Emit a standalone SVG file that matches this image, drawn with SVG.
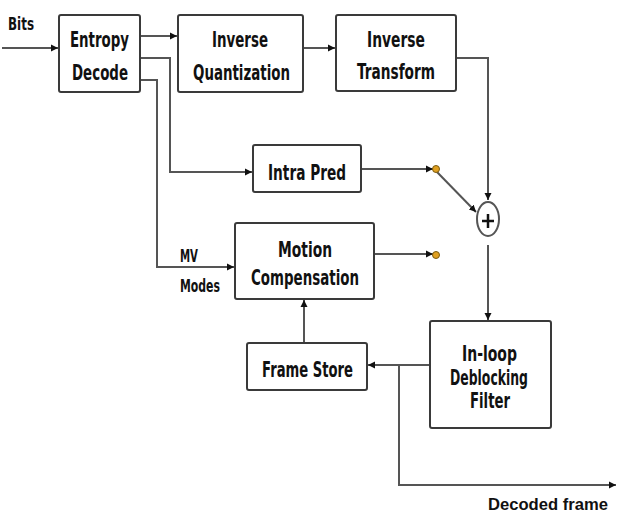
<svg xmlns="http://www.w3.org/2000/svg" width="617" height="517" viewBox="0 0 617 517">
<style>
.box{fill:#fff;stroke:#3a3a3a;stroke-width:2}
.t{font-family:"DejaVu Sans",Verdana,sans-serif;font-weight:bold;font-size:21px;fill:#111}
.s{font-family:"DejaVu Sans",Verdana,sans-serif;font-weight:bold;font-size:17px;fill:#111}
.n{font-family:"Liberation Sans",Arial,sans-serif;font-weight:bold;font-size:17px;fill:#111}
.c{fill:none;stroke:#555;stroke-width:2}
</style>
<defs>
<marker id="ah" markerWidth="8" markerHeight="8" refX="7" refY="4" orient="auto" markerUnits="userSpaceOnUse">
<path d="M0,0.5 L7,4 L0,7.5 Z" fill="#111"/>
</marker>
</defs>
<rect width="617" height="517" fill="#fff"/>
<g id="connectors">
<path class="c" d="M2,48 H58" marker-end="url(#ah)"/>
<path class="c" d="M140,36 H177" marker-end="url(#ah)"/>
<path class="c" d="M303,48 H335" marker-end="url(#ah)"/>
<path class="c" d="M456,58 H488 V200" marker-end="url(#ah)"/>
<path class="c" d="M140,58 H170 V172 H252" marker-end="url(#ah)"/>
<path class="c" d="M140,80 H157 V267 H234" marker-end="url(#ah)"/>
<path class="c" d="M361,169 H433" marker-end="url(#ah)"/>
<path class="c" d="M437,172 L476,212" marker-end="url(#ah)"/>
<path class="c" d="M374,254 H433" marker-end="url(#ah)"/>
<path class="c" d="M488,245 V320" marker-end="url(#ah)"/>
<path class="c" d="M430,365 H368" marker-end="url(#ah)"/>
<path class="c" d="M399,365 V485 H616" marker-end="url(#ah)"/>
<path class="c" d="M304,343 V300" marker-end="url(#ah)"/>
<circle cx="436" cy="169" r="3.5" fill="#e0a020" stroke="#7a5a10" stroke-width="1"/>
<circle cx="436" cy="255" r="3.5" fill="#e0a020" stroke="#7a5a10" stroke-width="1"/>
</g>
<g id="bits-label"><text class="s" x="8" y="30" textLength="26" lengthAdjust="spacingAndGlyphs" font-size="16">Bits</text></g>
<g id="entropy">
<rect class="box" x="59" y="15" width="81" height="77" rx="2"/>
<text class="t" x="70" y="47" textLength="59" lengthAdjust="spacingAndGlyphs">Entropy</text>
<text class="t" x="72" y="80" textLength="56" lengthAdjust="spacingAndGlyphs">Decode</text>
</g>
<g id="iq">
<rect class="box" x="178" y="15" width="125" height="77" rx="2"/>
<text class="t" x="212" y="47" textLength="56" lengthAdjust="spacingAndGlyphs">Inverse</text>
<text class="t" x="193" y="80" textLength="97" lengthAdjust="spacingAndGlyphs">Quantization</text>
</g>
<g id="it">
<rect class="box" x="336" y="15" width="120" height="76" rx="2"/>
<text class="t" x="367" y="47" textLength="58" lengthAdjust="spacingAndGlyphs">Inverse</text>
<text class="t" x="357" y="79" textLength="78" lengthAdjust="spacingAndGlyphs">Transform</text>
</g>
<g id="intra">
<rect class="box" x="253" y="145" width="108" height="47" rx="2"/>
<text class="t" x="268" y="180" textLength="78" lengthAdjust="spacingAndGlyphs">Intra Pred</text>
</g>
<g id="adder">
<ellipse cx="488" cy="219" rx="11" ry="17" fill="#fff" stroke="#555" stroke-width="2"/>
<path d="M482,221 H494 M488,214 V228" stroke="#111" stroke-width="2.5"/>
</g>
<g id="mv-label">
<text class="s" x="180" y="262" textLength="18" lengthAdjust="spacingAndGlyphs">MV</text>
<text class="s" x="180" y="292" textLength="40" lengthAdjust="spacingAndGlyphs">Modes</text>
</g>
<g id="mc">
<rect class="box" x="235" y="223" width="139" height="76" rx="2"/>
<text class="t" x="278" y="257" textLength="54" lengthAdjust="spacingAndGlyphs">Motion</text>
<text class="t" x="251" y="285" textLength="108" lengthAdjust="spacingAndGlyphs">Compensation</text>
</g>
<g id="framestore">
<rect class="box" x="247" y="343" width="120" height="47" rx="2"/>
<text class="t" x="262" y="377" textLength="91" lengthAdjust="spacingAndGlyphs">Frame Store</text>
</g>
<g id="deblock">
<rect class="box" x="430" y="321" width="121" height="107" rx="2"/>
<text class="t" x="462" y="361" textLength="55" lengthAdjust="spacingAndGlyphs">In-loop</text>
<text class="t" x="450" y="385" textLength="78" lengthAdjust="spacingAndGlyphs">Deblocking</text>
<text class="t" x="470" y="408" textLength="40" lengthAdjust="spacingAndGlyphs">Filter</text>
</g>
<g id="decoded-label">
<text class="n" x="488" y="510" textLength="120" lengthAdjust="spacingAndGlyphs">Decoded frame</text>
</g>
</svg>
